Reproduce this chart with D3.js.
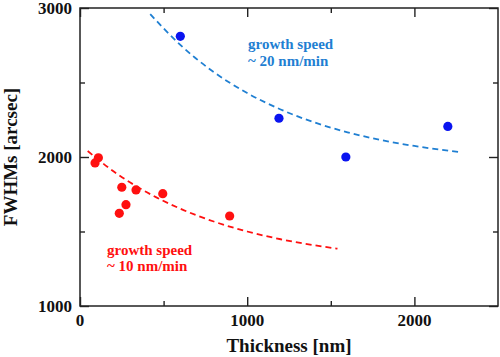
<!DOCTYPE html>
<html>
<head>
<meta charset="utf-8">
<script src="https://cdn.jsdelivr.net/npm/d3@7/dist/d3.min.js"></script>
<style>
  html, body { margin: 0; padding: 0; background: #fff; }
  svg { display: block; }
  text { font-family: "Liberation Serif", "Times New Roman", serif; font-weight: bold; }
</style>
</head>
<body>
<svg id="chart" width="500" height="357"></svg>
<script>
// ---- Data ----
const xTicksMajor = [0, 1000, 2000];
const xTicksMinor = [500, 1500];
const yTicksMajor = [1000, 2000, 3000];
const yTicksMinor = [1500, 2500];

// 20 nm/min series (blue)
const blueThickness = [600, 1190, 1590, 2200];
const blueFWHM      = [2810, 2260, 2000, 2205];
// 10 nm/min series (red)
const redThickness = [90, 110, 250, 275, 235, 335, 495, 895];
const redFWHM      = [1960, 1995, 1797, 1680, 1622, 1779, 1754, 1604];

// dashed guide curves
const blueCurveX = [420, 600, 800, 1000, 1200, 1400, 1600, 1800, 2000, 2270];
const blueCurveY = [2959, 2752, 2570, 2429, 2319, 2233, 2166, 2114, 2074, 2033];
const redCurveX  = [46, 200, 400, 600, 800, 1000, 1200, 1400, 1540];
const redCurveY  = [2040, 1904, 1763, 1653, 1567, 1500, 1448, 1408, 1385];

const labels = {
  x: "Thickness [nm]",
  y: "FWHMs [arcsec]",
  blue: ["growth speed", "~ 20 nm/min"],
  red: ["growth speed", "~ 10 nm/min"]
};

// ---- Layout ----
const W = 500, H = 357;
const m = { left: 80, right: 2, top: 8, bottom: 51 };
const svg = d3.select("#chart");
const x = d3.scaleLinear().domain([0, 2500]).range([m.left, W - m.right]);
const y = d3.scaleLinear().domain([1000, 3000]).range([H - m.bottom, m.top]);

const blueLine = "#1f7fd2";
const bluePt = "#0a14f0";
const red = "#ff1010";
const axisCol = "#222";

// ---- Axes (inward ticks on all four sides) ----
const g = svg.append("g");
function addAxis(axisFn, scale, vals, len, transform) {
  const a = g.append("g").attr("transform", transform)
    .call(axisFn(scale).tickValues(vals).tickSize(len).tickFormat(""));
  a.select(".domain").remove();
  a.selectAll("line").attr("stroke", axisCol).attr("stroke-width", 1.4);
  return a;
}
const bottomY = H - m.bottom, rightX = W - m.right;
// bottom
addAxis(d3.axisTop, x, xTicksMajor, 9, `translate(0,${bottomY})`);
addAxis(d3.axisTop, x, xTicksMinor, 5, `translate(0,${bottomY})`);
// top
addAxis(d3.axisBottom, x, xTicksMajor, 9, `translate(0,${m.top})`);
addAxis(d3.axisBottom, x, xTicksMinor, 5, `translate(0,${m.top})`);
// left
addAxis(d3.axisRight, y, yTicksMajor, 9, `translate(${m.left},0)`);
addAxis(d3.axisRight, y, yTicksMinor, 5, `translate(${m.left},0)`);
// right
addAxis(d3.axisLeft, y, yTicksMajor, 9, `translate(${rightX},0)`);
addAxis(d3.axisLeft, y, yTicksMinor, 5, `translate(${rightX},0)`);

// frame
g.append("rect")
  .attr("x", m.left).attr("y", m.top)
  .attr("width", rightX - m.left).attr("height", bottomY - m.top)
  .attr("fill", "none").attr("stroke", axisCol).attr("stroke-width", 1.5);

// tick labels
g.selectAll("text.xl").data(xTicksMajor).enter().append("text")
  .attr("x", d => x(d)).attr("y", bottomY + 20)
  .attr("text-anchor", "middle").attr("font-size", 17).attr("fill", "#111")
  .text(d => d);
g.selectAll("text.yl").data(yTicksMajor).enter().append("text")
  .attr("x", m.left - 8).attr("y", d => y(d) + 6)
  .attr("text-anchor", "end").attr("font-size", 17).attr("fill", "#111")
  .text(d => d);

// axis titles
g.append("text").attr("x", (m.left + rightX) / 2).attr("y", 352)
  .attr("text-anchor", "middle").attr("font-size", 19).attr("fill", "#111")
  .text(labels.x);
g.append("text").attr("transform", `translate(17,${(m.top + bottomY) / 2}) rotate(-90)`)
  .attr("text-anchor", "middle").attr("font-size", 19).attr("fill", "#111")
  .text(labels.y);

// ---- Curves ----
const line = d3.line().x(d => x(d[0])).y(d => y(d[1])).curve(d3.curveMonotoneX);
svg.append("path").datum(d3.zip(blueCurveX, blueCurveY))
  .attr("d", line).attr("fill", "none").attr("stroke", blueLine)
  .attr("stroke-width", 1.8).attr("stroke-dasharray", "6,4");
svg.append("path").datum(d3.zip(redCurveX, redCurveY))
  .attr("d", line).attr("fill", "none").attr("stroke", red)
  .attr("stroke-width", 1.8).attr("stroke-dasharray", "6,4");

// ---- Points ----
svg.selectAll("circle.b").data(d3.zip(blueThickness, blueFWHM)).enter().append("circle")
  .attr("cx", d => x(d[0])).attr("cy", d => y(d[1])).attr("r", 4.6).attr("fill", bluePt);
svg.selectAll("circle.r").data(d3.zip(redThickness, redFWHM)).enter().append("circle")
  .attr("cx", d => x(d[0])).attr("cy", d => y(d[1])).attr("r", 4.6).attr("fill", red);

// ---- Annotations ----
const bt = svg.append("text").attr("font-size", 15).attr("fill", blueLine);
bt.append("tspan").attr("x", 248).attr("y", 49).text(labels.blue[0]);
bt.append("tspan").attr("x", 248).attr("y", 66).text(labels.blue[1]);
const rt = svg.append("text").attr("font-size", 15).attr("fill", red);
rt.append("tspan").attr("x", 107).attr("y", 255).text(labels.red[0]);
rt.append("tspan").attr("x", 107).attr("y", 271).text(labels.red[1]);
</script>
</body>
</html>
